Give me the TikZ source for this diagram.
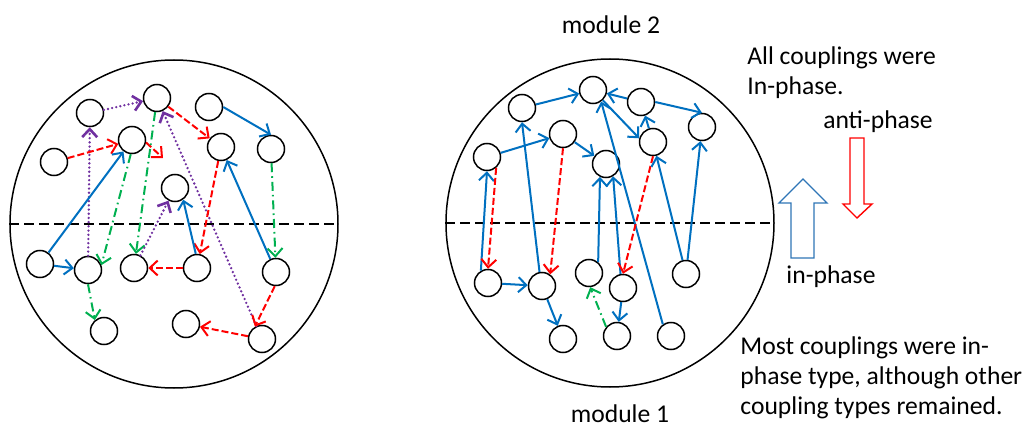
\documentclass[tikz,border=0pt]{standalone}
\usepackage{fontspec}
\setmainfont{Carlito}
\usepackage{xcolor}
\usetikzlibrary{arrows.meta}
\definecolor{inblue}{RGB}{0,112,192}
\definecolor{antired}{RGB}{255,0,0}
\definecolor{othgreen}{RGB}{0,176,80}
\definecolor{othpurple}{RGB}{112,48,160}
\definecolor{bigblue}{RGB}{46,117,182}

\begin{document}
\begin{tikzpicture}[x=0.5pt, y=-0.5pt,
  module/.style={circle, draw, line width=0.75pt, minimum size=164pt, inner sep=0pt},
  osc/.style={circle, draw, line width=0.75pt, minimum size=13.5pt, inner sep=0pt, fill=white},
  divide/.style={line width=1pt, dash pattern=on 5pt off 2.5pt},
  link/.style={line width=1pt, -{Straight Barb[length=4pt, width=7.5pt]}},
  inph/.style={link, inblue},
  anti/.style={link, antired, dash pattern=on 3.5pt off 1.5pt},
  grn/.style={link, othgreen, dash pattern=on 4.5pt off 2pt on 0.8pt off 2pt},
  purp/.style={link, othpurple, line width=1.3pt, line cap=round, dash pattern=on 0pt off 2.1pt},
  txt/.style={font=\fontsize{12.8}{15}\selectfont, inner sep=0pt}
]
  \useasboundingbox (0,0) rectangle (1024,433);

  % modules
  \node[module] (m2) at (174,224) {};
  \node[module] (m1) at (610,223) {};
  \draw[divide] (m2.west) -- (m2.east);
  \draw[divide] (m1.west) -- (m1.east);

  % left: before
  \node[osc] (a1)  at (90,113)  {};
  \node[osc] (a2)  at (157,98)  {};
  \node[osc] (a3)  at (132,140) {};
  \node[osc] (a4)  at (54,162)  {};
  \node[osc] (a5)  at (175,188) {};
  \node[osc] (a6)  at (209,107) {};
  \node[osc] (a7)  at (221,147) {};
  \node[osc] (a8)  at (271,149) {};
  \node[osc] (a9)  at (40,264)  {};
  \node[osc] (a10) at (88,270)  {};
  \node[osc] (a11) at (134,268) {};
  \node[osc] (a12) at (104,331) {};
  \node[osc] (a13) at (186,324) {};
  \node[osc] (a14) at (197,268) {};
  \node[osc] (a15) at (276,272) {};
  \node[osc] (a16) at (262,339) {};
  \coordinate (a3e) at (163,158);

  \draw[purp] (a1) -- (a2);
  \draw[purp] (a10) -- (a1);
  \draw[anti] (a4) -- (a3);
  \draw[inph] (a9) -- (a3);
  \draw[anti] (a3.-10) -- (a3e);
  \draw[anti] (a2) -- (a7);
  \draw[purp] (a16) -- (a2);
  \draw[grn]  (a2) -- (a11);
  \draw[grn]  (a3.-95) -- (a10.20);
  \draw[purp] (a11) -- (a5);
  \draw[grn]  (a10.south) -- (a12.130);
  \draw[inph] (a9) -- (a10);
  \draw[anti] (a14) -- (a11);
  \draw[anti] (a7) -- (a14);
  \draw[inph] (a14.95) -- (a5.-55);
  \draw[inph] (a15) -- (a7);
  \draw[inph] (a6.east) -- (a8.north);
  \draw[grn]  (a8) -- (a15);
  \draw[anti] (a15.-95) -- (a16.120);
  \draw[anti] (a16) -- (a13);

  % right: after
  \node[osc] (b1)  at (487,157) {};
  \node[osc] (b2)  at (522,108) {};
  \node[osc] (b3)  at (563,134) {};
  \node[osc] (b4)  at (593,90)  {};
  \node[osc] (b5)  at (641,102) {};
  \node[osc] (b6)  at (653,142) {};
  \node[osc] (b7)  at (702,127) {};
  \node[osc] (b8)  at (606,164) {};
  \node[osc] (b9)  at (488,283) {};
  \node[osc] (b10) at (542,286) {};
  \node[osc] (b11) at (563,339) {};
  \node[osc] (b12) at (589,273) {};
  \node[osc] (b13) at (623,288) {};
  \node[osc] (b14) at (686,274) {};
  \node[osc] (b15) at (617,336) {};
  \node[osc] (b16) at (671,336) {};

  \draw[inph] (b1) -- (b3);
  \draw[inph] (b2) -- (b4);
  \draw[inph] (b3) -- (b8);
  \draw[inph] (b9.120) -- (b1.south);
  \draw[anti] (b1.-50) -- (b9.north);
  \draw[inph] (b10.100) -- (b2.south);
  \draw[anti] (b3.south) -- (b10.55);
  \draw[inph] (b9) -- (b10);
  \draw[inph] (b10) -- (b11);
  \draw[inph] (b5) -- (b4);
  \draw[inph] (b5.east) -- (b7.north);
  \draw[inph] (b6) -- (b5);
  \draw[inph] (b4) -- (b6.165);
  \draw[inph] (b16.125) -- (b4.-55);
  \draw[inph] (b12.50) -- (b8.-115);
  \draw[inph] (b13.100) -- (b8.-60);
  \draw[anti] (b6.south) -- (b13.north);
  \draw[inph] (b14) -- (b6);
  \draw[inph] (b14) -- (b7);
  \draw[grn]  (b15.140) -- (b12.-85);
  \draw[inph] (b13) -- (b15);

  % labels
  \node[txt] (t2) at (611,25)  {module 2};
  \node[txt] (t1) at (620,414) {module 1};
  \node[txt, anchor=west, align=left] (tall) at (747,73) {All couplings were\\In-phase.};
  \node[txt] (tanti) at (878,122) {anti-phase};
  \node[txt] (tin)   at (831,277) {in-phase};
  \node[txt, anchor=west, align=left] (tmost) at (740,378)
    {Most couplings were in-\\phase type, although other\\coupling types remained.};

  % legend arrows
  \draw[bigblue, line width=0.7pt] (791,258) -- (814,258) -- (814,203) -- (827,203)
    -- (803,179) -- (779,203) -- (791,203) -- cycle;
  \draw[antired, line width=0.7pt] (850,138) -- (864,138) -- (864,204) -- (872,204)
    -- (857,218) -- (843,204) -- (850,204) -- cycle;
\end{tikzpicture}
\end{document}
